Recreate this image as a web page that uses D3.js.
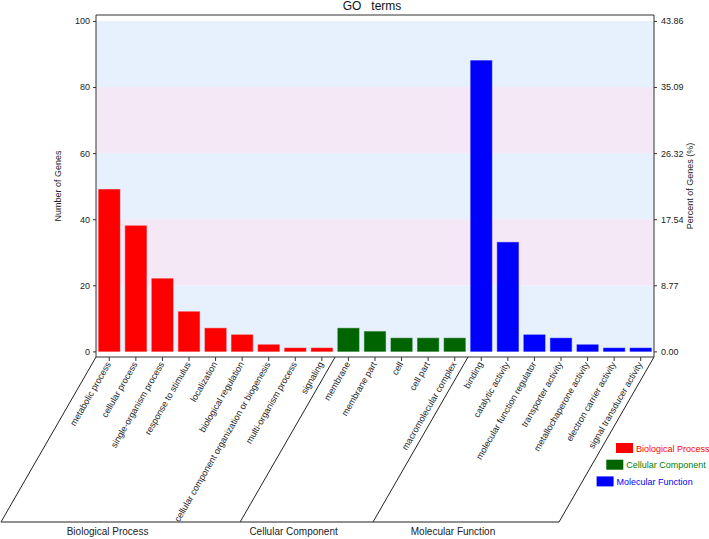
<!DOCTYPE html>
<html>
<head>
<meta charset="utf-8">
<script src="https://cdn.jsdelivr.net/npm/d3@7"></script>
<style>
  body { margin: 0; background: #fff; }
  svg { display: block; font-family: "Liberation Sans", Arial, sans-serif; }
</style>
</head>
<body>
<svg id="chart" width="709" height="539"></svg>
<script>
// ---- data ----
const categories = [
  "metabolic process", "cellular process", "single-organism process", "response to stimulus",
  "localization", "biological regulation", "cellular component organization or biogenesis",
  "multi-organism process", "signaling",
  "membrane", "membrane part", "cell", "cell part", "macromolecular complex",
  "binding", "catalytic activity", "molecular function regulator", "transporter activity",
  "metallochaperone activity", "electron carrier activity", "signal transducer activity"
];
const groupOf = [
  "Biological Process","Biological Process","Biological Process","Biological Process",
  "Biological Process","Biological Process","Biological Process","Biological Process","Biological Process",
  "Cellular Component","Cellular Component","Cellular Component","Cellular Component","Cellular Component",
  "Molecular Function","Molecular Function","Molecular Function","Molecular Function",
  "Molecular Function","Molecular Function","Molecular Function"
];
const geneCounts = [49, 38, 22, 12, 7, 5, 2, 1, 1, 7, 6, 4, 4, 4, 88, 33, 5, 4, 2, 1, 1];
const groups = ["Biological Process", "Cellular Component", "Molecular Function"];
const groupColors = ["#ff0000", "#006400", "#0000ff"];
const legendTextColors = ["#ff0000", "#008000", "#0000ff"];
const leftTicks = [0, 20, 40, 60, 80, 100];
const rightTickLabels = ["0.00", "8.77", "17.54", "26.32", "35.09", "43.86"];
const totalGenes = 228;

// ---- layout ----
const svg = d3.select("#chart");
const L = 96, R = 654, T = 15, B = 357;
const slantDx = -95, slantBottom = 522;

const x = d3.scaleBand().domain(categories).range([L, R]).paddingInner(0.2).paddingOuter(0.1);
const y = d3.scaleLinear().domain([-1.7, 101.8]).range([B, T]);
const yR = d3.scaleLinear().domain(y.domain().map(v => v / totalGenes * 100)).range([B, T]);
const color = d3.scaleOrdinal().domain(groups).range(groupColors);

// background bands
const bands = [[0, 20, "#e7f1fd"], [20, 40, "#f4e8f6"], [40, 60, "#e7f1fd"], [60, 80, "#f4e8f6"], [80, 100, "#e7f1fd"]];
svg.append("g").selectAll("rect").data(bands).join("rect")
  .attr("x", L).attr("width", R - L)
  .attr("y", d => y(d[1])).attr("height", d => y(d[0]) - y(d[1]))
  .attr("fill", d => d[2]);

// bars
svg.append("g").selectAll("rect").data(categories).join("rect")
  .attr("x", d => x(d))
  .attr("width", x.bandwidth())
  .attr("y", (d, i) => y(geneCounts[i]))
  .attr("height", (d, i) => y(0) - y(geneCounts[i]))
  .attr("fill", (d, i) => color(groupOf[i]))
  .attr("stroke", (d, i) => color(groupOf[i]))
  .attr("stroke-opacity", 0.45)
  .attr("stroke-width", 1);

// frame
svg.append("path")
  .attr("d", `M${L},${B}V${T}H${R}V${B}`)
  .attr("fill", "none").attr("stroke", "#333").attr("stroke-width", 1);

// left axis
const yAxis = svg.append("g").attr("transform", `translate(${L},0)`)
  .call(d3.axisLeft(y).tickValues(leftTicks).tickSize(3).tickPadding(3));
yAxis.select(".domain").remove();
yAxis.selectAll("line").attr("stroke", "#333");
yAxis.selectAll("text").attr("font-size", 9).attr("fill", "#222").attr("font-family", "Liberation Sans, Arial");

// right axis
const yAxisR = svg.append("g").attr("transform", `translate(${R},0)`)
  .call(d3.axisRight(yR).tickValues(leftTicks.map(v => v / totalGenes * 100))
    .tickFormat((d, i) => rightTickLabels[i]).tickSize(3).tickPadding(4));
yAxisR.select(".domain").remove();
yAxisR.selectAll("line").attr("stroke", "#333");
yAxisR.selectAll("text").attr("font-size", 9).attr("fill", "#222").attr("font-family", "Liberation Sans, Arial");

// bottom axis line + ticks
const xAxis = svg.append("g").attr("transform", `translate(0,${B})`)
  .call(d3.axisBottom(x).tickSize(4).tickFormat(""));
xAxis.select(".domain").attr("d", `M${L},0H${R}`).attr("stroke", "#333");
xAxis.selectAll("line").attr("stroke", "#333");

// x labels
svg.append("g").selectAll("text").data(categories).join("text")
  .attr("transform", d => `translate(${x(d) + x.bandwidth() / 2 + 2},${B + 7}) rotate(-60)`)
  .attr("text-anchor", "end")
  .attr("font-size", 9)
  .attr("fill", "#222")
  .text(d => d);

// group separators (parallelogram)
const step = x.step();
const bounds = [L];
groups.slice(1).forEach(g => {
  const first = categories[groupOf.indexOf(g)];
  bounds.push(x(first) - step * x.paddingInner() / 2);
});
bounds.push(R);
const sep = svg.append("g").attr("stroke", "#222").attr("stroke-width", 1).attr("fill", "none");
bounds.forEach(b => {
  sep.append("line").attr("x1", b).attr("y1", B).attr("x2", b + slantDx).attr("y2", slantBottom);
});
sep.append("line").attr("x1", L + slantDx).attr("y1", slantBottom).attr("x2", R + slantDx).attr("y2", slantBottom);

// group labels
svg.append("g").selectAll("text").data(groups).join("text")
  .attr("x", (g, i) => (bounds[i] + bounds[i + 1]) / 2 + slantDx - 13)
  .attr("y", 535)
  .attr("text-anchor", "middle")
  .attr("font-size", 10)
  .attr("fill", "#222")
  .text(g => g);

// title
svg.append("text")
  .attr("x", 372).attr("y", 10)
  .attr("text-anchor", "middle")
  .attr("font-size", 12)
  .attr("fill", "#111")
  .style("white-space", "pre")
  .text("GO   terms");

// axis titles
svg.append("text")
  .attr("transform", `translate(61,${(T + B) / 2}) rotate(-90)`)
  .attr("text-anchor", "middle").attr("font-size", 9).attr("fill", "#222")
  .text("Number of Genes");
svg.append("text")
  .attr("transform", `translate(693,${(T + B) / 2}) rotate(-90)`)
  .attr("text-anchor", "middle").attr("font-size", 9).attr("fill", "#222")
  .text("Percent of Genes (%)");

// legend
const legend = svg.append("g").selectAll("g").data(groups).join("g")
  .attr("transform", (g, i) => `translate(${616 - i * 9.7},${443 + i * 16.7})`);
legend.append("rect").attr("width", 17).attr("height", 10).attr("fill", (g, i) => groupColors[i]);
legend.append("text").attr("x", 20).attr("y", 8.5).attr("font-size", 9)
  .attr("fill", (g, i) => legendTextColors[i]).text(g => g);
</script>
</body>
</html>
